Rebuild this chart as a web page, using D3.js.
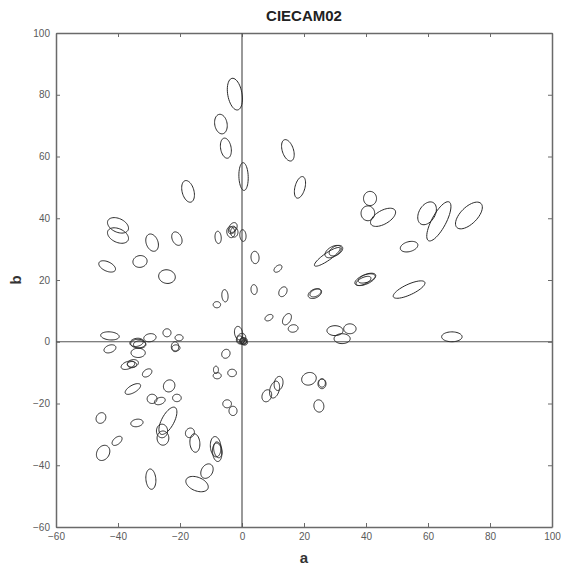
<!DOCTYPE html>
<html>
<head>
<meta charset="utf-8">
<script src="https://cdn.jsdelivr.net/npm/d3@7"></script>
<style>
  html, body { margin: 0; padding: 0; background: #fff; }
  svg { display: block; }
</style>
</head>
<body>
<script>
// ---- Data (CIECAM02 a-b plane, ellipses) ----
const title = "CIECAM02";
const xLabel = "a";
const yLabel = "b";
const xTicks = [-60, -40, -20, 0, 20, 40, 60, 80, 100];
const yTicks = [-60, -40, -20, 0, 20, 40, 60, 80, 100];

// ellipse centres (a, b), semi-axes (data units), orientation of major axis (deg)
const centerA = [
  -2.3, -6.8, -5.2, 0.5, -17.4, 14.8, 18.7,
  41.3, 40.6, 45.5, 59.7, 63.5, 73.2, 53.9, 53.9,
  39.7, 40.3, 39.2, 67.7, 30.0, 34.8, 32.3,
  29.4, 30.3, 27.5,
  4.2, 11.6, 3.9, 13.2, 23.5, 23.7, 8.7, 14.5, 16.5,
  -1.1, -0.3, 0.4, 0.6, -0.5, 0.5, 0.8, 0.2,
  8.0, 10.5, 11.8, 21.6, 25.8, 25.8, 24.8,
  -5.2, -3.2, -8.4, -8.0, -4.8, -2.9,
  -40.0, -40.0, -29.0, -21.0, -43.5, -32.9, -24.2, -7.7,
  -3.6, -2.9, -2.5, -3.2, 0.3, -5.5, -8.1,
  -42.6, -29.7, -24.2, -20.3, -42.6,
  -33.5, -33.0, -34.0, -33.5, -21.6, -21.3,
  -36.8, -35.2, -35.5, -30.6, -35.2, -23.5, -29.0, -26.5, -21.0,
  -45.5, -33.9, -23.9, -25.8, -25.5, -16.8, -15.2,
  -8.5, -8.0, -7.8, -11.3, -14.5, -29.4, -44.8, -40.3
];
const centerB = [
  80.2, 70.5, 62.7, 53.5, 48.7, 62.0, 50.0,
  46.4, 41.6, 40.3, 41.6, 39.0, 40.9, 30.8, 16.9,
  20.1, 20.6, 19.7, 1.6, 3.6, 4.2, 1.0,
  29.2, 29.5, 27.5,
  27.3, 23.7, 16.9, 16.2, 15.6, 15.8, 7.8, 7.3, 4.3,
  2.8, 1.0, 0.2, -0.1, 0.6, 0.3, -0.3, 0.5,
  -17.5, -15.5, -13.5, -12.0, -13.6, -13.4, -20.8,
  -3.9, -10.1, -9.1, -11.0, -20.1, -22.4,
  37.7, 34.4, 32.1, 33.4, 24.4, 26.0, 21.1, 33.8,
  35.5, 37.0, 35.5, 36.2, 34.4, 14.9, 12.0,
  1.9, 1.3, 2.9, 1.3, -2.3,
  -0.6, -0.9, -0.2, -3.6, -1.6, -2.0,
  -7.6, -7.0, -7.4, -10.1, -15.3, -14.3, -18.5, -19.2, -18.2,
  -24.7, -26.3, -25.6, -28.9, -31.2, -29.5, -32.8,
  -34.0, -35.8, -35.0, -41.9, -46.1, -44.5, -36.0, -32.1
];
const semiMajor = [
  5.2, 3.2, 3.3, 4.5, 3.6, 3.6, 3.6,
  2.3, 2.4, 4.5, 4.0, 7.1, 5.5, 2.9, 5.6,
  3.5, 3.0, 2.6, 3.3, 2.6, 2.0, 2.6,
  2.9, 2.4, 5.0,
  2.0, 1.5, 1.6, 1.7, 2.3, 1.9, 1.4, 2.0, 1.6,
  2.2, 1.8, 1.2, 0.9, 1.4, 1.2, 1.0, 1.0,
  2.0, 2.8, 2.3, 2.4, 1.6, 1.3, 2.0,
  1.5, 1.4, 1.2, 1.3, 1.4, 1.5,
  3.6, 3.6, 2.9, 2.3, 2.9, 2.3, 2.7, 2.0,
  1.8, 1.7, 1.6, 1.4, 1.9, 2.0, 1.2,
  3.0, 2.0, 1.3, 1.3, 2.0,
  2.4, 2.0, 2.2, 2.3, 1.6, 1.3,
  2.3, 1.8, 1.5, 1.7, 2.8, 2.0, 1.6, 1.8, 1.4,
  1.8, 2.0, 4.9, 2.2, 2.3, 1.6, 3.0,
  3.3, 3.0, 2.6, 2.5, 3.8, 3.3, 2.6, 1.9
];
const semiMinor = [
  2.3, 2.0, 1.7, 1.5, 1.9, 1.8, 1.6,
  2.1, 2.2, 2.2, 2.6, 2.3, 2.7, 1.6, 1.7,
  1.5, 1.3, 1.1, 1.6, 1.6, 1.6, 1.6,
  1.6, 1.4, 1.2,
  1.3, 0.9, 1.0, 1.2, 1.4, 1.1, 0.9, 1.2, 1.2,
  1.3, 1.4, 1.0, 0.8, 1.0, 0.9, 0.8, 0.7,
  1.5, 1.5, 1.4, 2.0, 1.3, 1.1, 1.6,
  1.3, 1.2, 0.8, 1.0, 1.3, 1.3,
  2.2, 2.2, 1.9, 1.5, 1.5, 1.9, 2.2, 1.0,
  1.3, 1.2, 1.2, 1.0, 1.0, 1.0, 1.0,
  1.3, 1.3, 1.3, 1.0, 1.2,
  1.4, 1.2, 1.3, 1.5, 1.2, 1.0,
  1.2, 1.2, 1.0, 1.1, 1.2, 1.8, 1.5, 1.1, 1.2,
  1.5, 1.2, 2.0, 1.8, 1.9, 1.4, 1.6,
  1.7, 1.5, 1.3, 1.8, 2.2, 1.6, 2.0, 1.1
];
const angleDeg = [
  100, 100, 100, 92, 105, 108, 75,
  90, 90, 30, 60, 62, 45, 15, 25,
  22, 20, 25, 0, 0, 0, 0,
  30, 30, 35,
  95, 40, 95, 60, 25, 25, 30, 60, 10,
  100, 60, 0, 0, 120, 30, 0, 90,
  70, 75, 80, 20, 90, 90, 100,
  60, 0, 90, 0, 0, 90,
  -25, -25, 110, 115, -25, 10, -10, 95,
  100, 60, 90, 45, 95, 95, 0,
  -5, 10, 0, 0, 20,
  0, 0, 10, 0, 90, 0,
  20, 10, 0, 35, 30, 60, 0, 20, 0,
  60, 10, 62, 90, 90, 60, 95,
  95, 95, 100, 60, -22, 95, 60, 40
];

// ---- Layout ----
const W = 561, H = 569;
const margin = { left: 56, right: 9, top: 33, bottom: 42 };

const svg = d3.select("body").append("svg")
  .attr("width", W).attr("height", H)
  .style("font-family", "Arial, 'Liberation Sans', sans-serif");

svg.append("rect").attr("width", W).attr("height", H).attr("fill", "#fff");

const x = d3.scaleLinear().domain([-60, 100]).range([margin.left, W - margin.right]);
const y = d3.scaleLinear().domain([-60, 100]).range([H - margin.bottom, margin.top]);

const axisColor = "#6a6a6a";
const labelColor = "#5a5a5a";

function styleAxis(g, showLabels) {
  g.selectAll(".domain").attr("stroke", axisColor).attr("stroke-width", 1.5);
  g.selectAll(".tick line").attr("stroke", axisColor).attr("stroke-width", 1);
  g.selectAll(".tick text")
    .attr("fill", labelColor)
    .style("font-size", "10px")
    .style("display", showLabels ? null : "none");
}

svg.append("g")
  .attr("transform", `translate(0,${y(-60)})`)
  .call(d3.axisBottom(x).tickValues(xTicks).tickSize(-4).tickSizeOuter(0).tickPadding(6))
  .call(g => styleAxis(g, true));

svg.append("g")
  .attr("transform", `translate(0,${y(100)})`)
  .call(d3.axisTop(x).tickValues(xTicks).tickSize(-4).tickSizeOuter(0))
  .call(g => styleAxis(g, false));

svg.append("g")
  .attr("transform", `translate(${x(-60)},0)`)
  .call(d3.axisLeft(y).tickValues(yTicks).tickSize(-4).tickSizeOuter(0).tickPadding(6))
  .call(g => styleAxis(g, true));

svg.append("g")
  .attr("transform", `translate(${x(100)},0)`)
  .call(d3.axisRight(y).tickValues(yTicks).tickSize(-4).tickSizeOuter(0))
  .call(g => styleAxis(g, false));

// zero lines
svg.append("line")
  .attr("x1", x(0)).attr("x2", x(0)).attr("y1", y(100)).attr("y2", y(-60))
  .attr("stroke", "#555").attr("stroke-width", 1.2);
svg.append("line")
  .attr("x1", x(-60)).attr("x2", x(100)).attr("y1", y(0)).attr("y2", y(0))
  .attr("stroke", "#555").attr("stroke-width", 1.2);

// ellipses
const ellipses = centerA.map((a, i) => ({
  a, b: centerB[i], ra: semiMajor[i], rb: semiMinor[i], th: angleDeg[i] * Math.PI / 180
}));
const ts = d3.range(0, 48).map(k => k / 48 * 2 * Math.PI);
const line = d3.line()
  .x(p => x(p[0])).y(p => y(p[1]))
  .curve(d3.curveCardinalClosed);

svg.append("g").selectAll("path")
  .data(ellipses)
  .join("path")
  .attr("d", e => line(ts.map(t => {
    const u = e.ra * Math.cos(t), v = e.rb * Math.sin(t);
    return [e.a + u * Math.cos(e.th) - v * Math.sin(e.th),
            e.b + u * Math.sin(e.th) + v * Math.cos(e.th)];
  })))
  .attr("fill", "none")
  .attr("stroke", "#2a2a2a")
  .attr("stroke-width", 1);

// titles
svg.append("text")
  .attr("x", (x(-60) + x(100)) / 2).attr("y", 21)
  .attr("text-anchor", "middle")
  .style("font-size", "15px").style("font-weight", "bold")
  .attr("fill", "#222")
  .text(title);

svg.append("text")
  .attr("x", (x(-60) + x(100)) / 2).attr("y", 563)
  .attr("text-anchor", "middle")
  .style("font-size", "15px").style("font-weight", "bold")
  .attr("fill", "#333")
  .text(xLabel);

svg.append("text")
  .attr("transform", `translate(21,${(y(-60) + y(100)) / 2}) rotate(-90)`)
  .attr("text-anchor", "middle")
  .style("font-size", "15px").style("font-weight", "bold")
  .attr("fill", "#333")
  .text(yLabel);
</script>
</body>
</html>
